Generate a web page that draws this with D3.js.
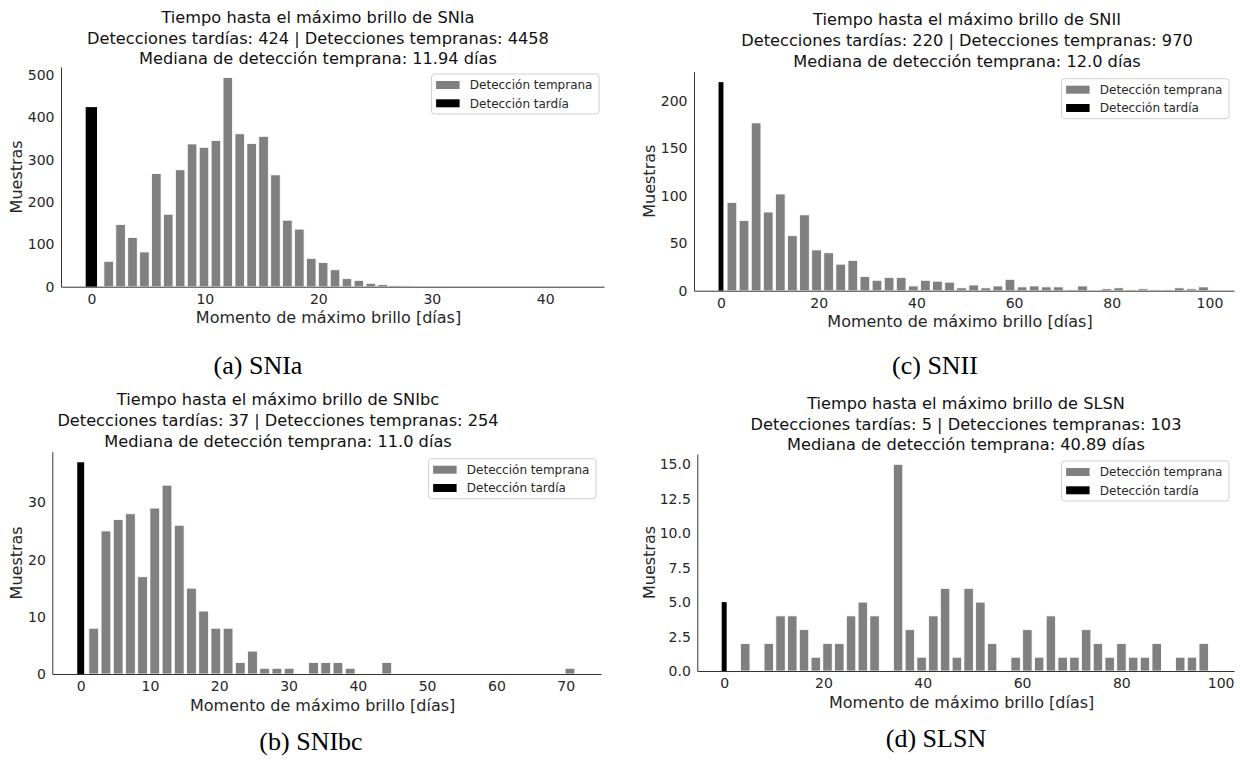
<!DOCTYPE html>
<html>
<head>
<meta charset="utf-8">
<script src="https://cdn.jsdelivr.net/npm/d3@7"></script>
<style>
  body { margin: 0; background: #fff; }
  svg text { font-family: "DejaVu Sans", sans-serif; }
</style>
</head>
<body>
<svg id="fig" width="1240" height="768"></svg>
<script>
// ---- data -------------------------------------------------------------
const classNames = ["SNIa", "SNIbc", "SNII", "SLSN"];
const captionLetters = ["a", "b", "c", "d"];

// counts per histogram bin of early detections (40 bins each)
const earlySNIa = [60, 147, 116, 82, 267, 171, 276, 337, 329, 345, 494, 361, 338, 355, 264, 157, 136, 67, 57, 40,
                   19, 15, 8, 5, 3, 2, 0, 1, 1, 0, 1, 0, 0, 0, 1, 1, 1, 0, 0, 1];
const earlySNIbc = [8, 25, 27, 28, 17, 29, 33, 26, 15, 11, 8, 8, 2, 4, 1, 1, 1, 0, 2, 2,
                    2, 1, 0, 0, 2, 0, 0, 0, 0, 0, 0, 0, 0, 0, 0, 0, 0, 0, 0, 1];
const earlySNII = [93, 74, 177, 83, 102, 58, 80, 43, 40, 28, 32, 15, 11, 14, 14, 5, 11, 10, 9, 3,
                   6, 3, 5, 12, 4, 5, 4, 4, 1, 5, 0, 2, 3, 1, 2, 1, 1, 3, 2, 4];
const earlySLSN = [2, 0, 2, 4, 4, 3, 1, 2, 2, 4, 5, 4, 0, 15, 3, 1, 4, 6, 1, 6,
                   5, 2, 0, 1, 3, 1, 4, 1, 1, 3, 2, 1, 2, 1, 1, 2, 0, 1, 1, 2];

// first bin edge and bin width (days) of each histogram
const binStarts = [1.0, 1.0, 1.0, 3.06];
const binWidths = [1.05, 1.7625, 2.475, 2.368];

// late detections, all placed at day 0
const lateCounts = [424, 37, 220, 5];
const medianLabels = ["11.94", "11.0", "12.0", "40.89"];

const xTicksSNIa = [0, 10, 20, 30, 40];
const xTicksSNIbc = [0, 10, 20, 30, 40, 50, 60, 70];
const xTicksSNII = [0, 20, 40, 60, 80, 100];
const xTicksSLSN = [0, 20, 40, 60, 80, 100];
const yTicksSNIa = [0, 100, 200, 300, 400, 500];
const yTicksSNIbc = [0, 10, 20, 30];
const yTicksSNII = [0, 50, 100, 150, 200];
const yTicksSLSN = [0, 2.5, 5, 7.5, 10, 12.5, 15];

const legendLabels = ["Detección temprana", "Detección tardía"];
const xLabelText = "Momento de máximo brillo [días]";
const yLabelText = "Muestras";

// ---- layout -----------------------------------------------------------
const earlyCounts = [earlySNIa, earlySNIbc, earlySNII, earlySLSN];
const xTicks = [xTicksSNIa, xTicksSNIbc, xTicksSNII, xTicksSLSN];
const yTicks = [yTicksSNIa, yTicksSNIbc, yTicksSNII, yTicksSLSN];
const yFormats = [d3.format("d"), d3.format("d"), d3.format("d"), d3.format(".1f")];

const frames = [
  { left: 61,    right: 604,  top: 67,    bottom: 286.7, titleX: 318, titleY: [23, 43.5, 64],  ylabX: 22,    capX: 258, capY: 374 },
  { left: 52.3,  right: 601,  top: 451.7, bottom: 674,   titleX: 278, titleY: [405, 426, 447], ylabX: 21.5,  capX: 311, capY: 750 },
  { left: 694,   right: 1234, top: 71.7,  bottom: 290.7, titleX: 967, titleY: [25, 46, 67],    ylabX: 654.5, capX: 935, capY: 374 },
  { left: 697.3, right: 1234, top: 454,   bottom: 671,   titleX: 966, titleY: [409, 430, 450], ylabX: 654.5, capX: 936, capY: 747 }
];

const GRAY = "#808080";
const INK = "#262626";
const svg = d3.select("#fig");

frames.forEach((f, k) => {
  const counts = earlyCounts[k];
  const start = binStarts[k], w = binWidths[k];
  const lastEdge = start + counts.length * w;
  const lo = Math.min(-0.5, start), hi = lastEdge;
  const pad = (hi - lo) * 0.05;

  const x = d3.scaleLinear().domain([lo - pad, hi + pad]).range([f.left, f.right]);
  const yMax = d3.max(counts.concat([lateCounts[k]])) * 1.05;
  const y = d3.scaleLinear().domain([0, yMax]).range([f.bottom, f.top]);

  const g = svg.append("g");

  // early-detection histogram
  g.append("g").selectAll("rect")
    .data(counts.map((c, i) => ({ c, x0: start + i * w })).filter(d => d.c > 0))
    .join("rect")
    .attr("x", d => x(d.x0 + 0.1 * w))
    .attr("width", d => x(d.x0 + 0.9 * w) - x(d.x0 + 0.1 * w))
    .attr("y", d => y(d.c))
    .attr("height", d => y(0) - y(d.c))
    .attr("fill", GRAY)
    .attr("stroke", "#fff")
    .attr("stroke-width", 0.8);

  // late detections at day 0
  g.append("rect")
    .attr("x", x(-0.5))
    .attr("width", x(0.5) - x(-0.5))
    .attr("y", y(lateCounts[k]))
    .attr("height", y(0) - y(lateCounts[k]))
    .attr("fill", "#000");

  // axes (left and bottom spines only)
  const xAxis = d3.axisBottom(x).tickValues(xTicks[k]).tickFormat(d3.format("d"))
    .tickSizeInner(0).tickSizeOuter(0).tickPadding(7.5);
  const yAxis = d3.axisLeft(y).tickValues(yTicks[k]).tickFormat(yFormats[k])
    .tickSizeInner(0).tickSizeOuter(0).tickPadding(6.5);

  const gx = g.append("g").attr("transform", `translate(0,${f.bottom})`).call(xAxis);
  const gy = g.append("g").attr("transform", `translate(${f.left},0)`).call(yAxis);
  [gx, gy].forEach(a => {
    a.select(".domain").attr("stroke", "#333").attr("stroke-width", 1);
    a.selectAll("text").attr("font-size", 14).attr("fill", INK)
      .style("font-family", "'DejaVu Sans', sans-serif");
  });

  // axis labels
  g.append("text")
    .attr("x", (f.left + f.right) / 2 - 4)
    .attr("y", f.bottom + 36.5)
    .attr("text-anchor", "middle")
    .attr("font-size", 16).attr("fill", INK)
    .text(xLabelText);
  g.append("text")
    .attr("transform", `translate(${f.ylabX},${(f.top + f.bottom) / 2}) rotate(-90)`)
    .attr("text-anchor", "middle")
    .attr("font-size", 16).attr("fill", INK)
    .text(yLabelText);

  // three-line title
  const titleLines = [
    `Tiempo hasta el máximo brillo de ${classNames[k]}`,
    `Detecciones tardías: ${lateCounts[k]} | Detecciones tempranas: ${d3.sum(counts)}`,
    `Mediana de detección temprana: ${medianLabels[k]} días`
  ];
  g.selectAll("text.title").data(titleLines).join("text")
    .attr("class", "title")
    .attr("x", f.titleX)
    .attr("y", (d, i) => f.titleY[i])
    .attr("text-anchor", "middle")
    .attr("font-size", 16.2).attr("fill", "#111")
    .text(d => d);

  // legend, upper right
  const lw = 167.5, lh = 40;
  const lx = f.right - 5 - lw, ly = f.top + 7;
  const leg = g.append("g").attr("transform", `translate(${lx},${ly})`);
  leg.append("rect")
    .attr("width", lw).attr("height", lh).attr("rx", 3)
    .attr("fill", "#fff").attr("fill-opacity", 0.8)
    .attr("stroke", "#d0d0d0").attr("stroke-width", 1);
  const swatches = [GRAY, "#000"];
  legendLabels.forEach((lab, i) => {
    const cy = 11 + i * 18.3;
    leg.append("rect")
      .attr("x", 4.6).attr("y", cy - 4)
      .attr("width", 23.5).attr("height", 8)
      .attr("fill", swatches[i]);
    leg.append("text")
      .attr("x", 38.3).attr("y", cy)
      .attr("dy", "0.36em")
      .attr("font-size", 12).attr("fill", INK)
      .text(lab);
  });

  // sub-figure caption
  svg.append("text")
    .attr("x", f.capX).attr("y", f.capY)
    .attr("text-anchor", "middle")
    .attr("font-size", 26)
    .attr("fill", "#000")
    .style("font-family", "'Liberation Serif', serif")
    .text(`(${captionLetters[k]}) ${classNames[k]}`);
});
</script>
</body>
</html>
